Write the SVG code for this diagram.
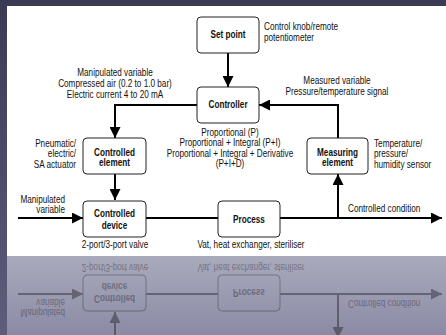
<svg xmlns="http://www.w3.org/2000/svg" xmlns:xlink="http://www.w3.org/1999/xlink" width="446" height="335" viewBox="0 0 446 335">
<defs>
<style>
.panel{fill:#ffffff}
.node rect{fill:none;stroke:#222;stroke-width:1}
text{font-family:"Liberation Sans",Arial,sans-serif;font-size:10px;fill:#111;transform-box:fill-box;transform:scaleX(0.82);transform-origin:left center}
.nl{font-weight:bold;text-anchor:middle;transform-origin:center}
.c{text-anchor:middle;transform-origin:center}
.r{text-anchor:end;transform-origin:right center}
.conn path{fill:none;stroke:#000;stroke-width:2;marker-end:url(#ah)}
.conn path.plain{marker-end:none}
</style>
<marker id="ah" markerUnits="userSpaceOnUse" markerWidth="11" markerHeight="11" refX="10" refY="5" orient="auto" viewBox="0 0 10 10">
<path d="M0,0 L10,5 L0,10 z" fill="#000"/>
</marker>
<linearGradient id="refl" x1="0" y1="0" x2="0" y2="1">
<stop offset="0" stop-color="#aaaabd"/>
<stop offset="1" stop-color="#8a8aa5"/>
</linearGradient>
<linearGradient id="strip" x1="0" y1="0" x2="0" y2="1">
<stop offset="0" stop-color="#3a3a55"/>
<stop offset="1" stop-color="#5e5e7c"/>
</linearGradient>
<clipPath id="rclip"><rect x="7" y="256" width="439" height="79"/></clipPath>
</defs>
<rect x="0" y="0" width="446" height="335" fill="url(#strip)"/>
<rect x="7" y="256" width="439" height="79" fill="url(#refl)"/>
<rect class="panel" x="7" y="6" width="439" height="250"/>

<g id="diagram">
<g id="connectors" class="conn">
<path d="M228,53 V87"/>
<path d="M197,105 H115 V138"/>
<path d="M115,174 V200"/>
<path d="M18,218 H83"/>
<path class="plain" d="M146,218 H218"/>
<path d="M280,218 H442"/>
<path d="M338,218 V174"/>
<path d="M338,138 V105 H259"/>
</g>
<g id="set-point" class="node">
<rect x="197" y="17" width="62" height="36" rx="4"/>
<text class="nl" x="228" y="38.5">Set point</text>
</g>
<g id="controller" class="node">
<rect x="197" y="87" width="62" height="36" rx="4"/>
<text class="nl" x="228" y="108.5">Controller</text>
</g>
<g id="controlled-element" class="node">
<rect x="83" y="138" width="63" height="36" rx="4"/>
<text class="nl" x="114.5" y="156">Controlled</text>
<text class="nl" x="114.5" y="166.5">element</text>
</g>
<g id="measuring-element" class="node">
<rect x="307" y="138" width="61" height="36" rx="4"/>
<text class="nl" x="337.5" y="156">Measuring</text>
<text class="nl" x="337.5" y="166.5">element</text>
</g>
<g id="controlled-device" class="node">
<rect x="83" y="201" width="63" height="36" rx="4"/>
<text class="nl" x="114.5" y="217.5">Controlled</text>
<text class="nl" x="114.5" y="229.5">device</text>
</g>
<g id="process" class="node">
<rect x="218" y="201" width="62" height="36" rx="4"/>
<text class="nl" x="249" y="223">Process</text>
</g>
<g id="labels">
<text x="264" y="30">Control knob/remote</text>
<text x="264" y="41">potentiometer</text>
<text class="c" x="115" y="76">Manipulated variable</text>
<text class="c" x="115" y="87">Compressed air (0.2 to 1.0 bar)</text>
<text class="c" x="115" y="98">Electric current 4 to 20 mA</text>
<text class="c" x="337" y="84">Measured variable</text>
<text class="c" x="337" y="95">Pressure/temperature signal</text>
<text class="c" x="230" y="136">Proportional (P)</text>
<text class="c" x="230" y="146.5">Proportional + Integral (P+I)</text>
<text class="c" x="230" y="157">Proportional + Integral + Derivative</text>
<text class="c" x="230" y="167.5">(P+I+D)</text>
<text class="r" x="76" y="147">Pneumatic/</text>
<text class="r" x="76" y="157.5">electric/</text>
<text class="r" x="76" y="168">SA actuator</text>
<text x="374" y="147">Temperature/</text>
<text x="374" y="157.5">pressure/</text>
<text x="374" y="168">humidity sensor</text>
<text class="r" x="65" y="203">Manipulated</text>
<text class="r" x="65" y="213.5">variable</text>
<text x="348" y="212">Controlled condition</text>
<text class="c" x="115" y="248">2-port/3-port valve</text>
<text class="c" x="251" y="248">Vat, heat exchanger, steriliser</text>
</g>
</g>

<g clip-path="url(#rclip)">
<use xlink:href="#diagram" href="#diagram" transform="translate(0,512) scale(1,-1)" opacity="0.35"/>
</g>
</svg>
